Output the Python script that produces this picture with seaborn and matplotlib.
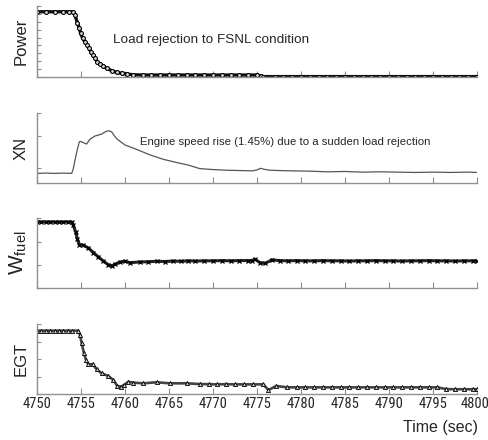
import numpy as np
import matplotlib
matplotlib.use('Agg')
import matplotlib.pyplot as plt
import matplotlib.transforms as mtransforms
from matplotlib import font_manager
import seaborn as sns

# Power (normalised, 0-9 scale) - load rejection
power_t = [4750.0, 4751.0, 4752.0, 4753.0, 4753.6, 4754.05, 4754.32, 4754.58, 4754.81, 4754.96,
           4755.19, 4755.45, 4755.72, 4755.95, 4756.10, 4756.33, 4756.59, 4756.85, 4757.16, 4757.54,
           4757.92, 4758.49, 4759.05, 4759.62, 4760.19, 4760.94, 4762.0, 4763.0, 4764.0, 4765.0,
           4766.0, 4767.0, 4768.0, 4769.0, 4770.0, 4771.0, 4772.0, 4773.0, 4774.0, 4775.0,
           4775.4, 4775.7, 4777.0, 4778.0, 4779.0, 4780.0, 4781.0, 4782.0, 4783.0, 4784.0,
           4785.0, 4786.0, 4787.0, 4788.0, 4789.0, 4790.0, 4791.0, 4792.0, 4793.0, 4794.0,
           4795.0, 4796.0, 4797.0, 4798.0, 4799.0, 4800.0]
power_v = [8.27, 8.27, 8.27, 8.27, 8.27, 8.27, 7.85, 6.88, 6.16, 5.53,
           4.90, 4.47, 4.05, 3.63, 3.20, 2.78, 2.36, 1.94, 1.65, 1.39,
           1.10, 0.80, 0.59, 0.47, 0.38, 0.28, 0.25, 0.25, 0.25, 0.25,
           0.25, 0.25, 0.25, 0.25, 0.25, 0.25, 0.25, 0.25, 0.25, 0.25,
           0.15, 0.05, 0.05, 0.05, 0.05, 0.05, 0.05, 0.05, 0.05, 0.05,
           0.05, 0.05, 0.05, 0.05, 0.05, 0.05, 0.05, 0.05, 0.05, 0.05,
           0.05, 0.05, 0.05, 0.05, 0.05, 0.05]

# XN engine speed
xn_t = [4750.0, 4751.0, 4752.0, 4753.0, 4753.94, 4754.1, 4754.32, 4754.6, 4754.81, 4755.0,
        4755.19, 4755.64, 4756.02, 4756.59, 4757.35, 4757.7, 4757.99, 4758.2, 4758.49, 4758.8,
        4759.13, 4760.0, 4761.33, 4762.84, 4764.36, 4765.88, 4767.2, 4768.5, 4770.0, 4771.5,
        4773.0, 4774.5, 4775.0, 4775.4, 4775.8, 4776.4, 4777.5, 4779.0, 4781.0, 4783.0,
        4785.0, 4787.0, 4789.0, 4791.0, 4793.0, 4795.0, 4797.0, 4799.0, 4800.0]
xn_v = [0.83, 0.84, 0.83, 0.84, 0.83, 0.95, 1.25, 1.60, 1.82, 1.83,
        1.80, 1.75, 1.90, 2.00, 2.06, 2.12, 2.16, 2.16, 2.13, 2.00,
        1.90, 1.72, 1.58, 1.41, 1.27, 1.17, 1.09, 0.98, 0.95, 0.93,
        0.92, 0.91, 0.94, 0.99, 0.96, 0.93, 0.92, 0.91, 0.90, 0.88,
        0.89, 0.87, 0.88, 0.87, 0.86, 0.87, 0.86, 0.87, 0.86]

# W_fuel fuel flow
wf_t = [4750.0, 4750.5, 4751.0, 4751.5, 4752.0, 4752.5, 4753.0, 4753.5, 4753.94, 4754.13,
        4754.39, 4754.58, 4754.81, 4755.26, 4755.83, 4756.4, 4756.97, 4757.54, 4758.1, 4758.49,
        4758.86, 4759.43, 4760.0, 4760.57, 4761.7, 4762.6, 4763.6, 4764.5, 4765.5, 4766.4,
        4767.2, 4768.0, 4769.0, 4770.0, 4771.0, 4772.0, 4773.0, 4774.0, 4774.4, 4774.77,
        4775.34, 4775.9, 4776.7, 4777.6, 4778.5, 4779.5, 4780.5, 4781.5, 4782.5, 4783.5,
        4784.5, 4785.5, 4786.5, 4787.5, 4788.5, 4789.5, 4790.5, 4791.5, 4792.5, 4793.5,
        4794.5, 4795.5, 4796.5, 4797.5, 4798.5, 4799.5, 4800.0]
wf_v = [2.87, 2.87, 2.87, 2.87, 2.87, 2.87, 2.87, 2.87, 2.87, 2.72,
        2.43, 2.14, 1.88, 1.86, 1.74, 1.54, 1.35, 1.17, 1.01, 0.96,
        1.03, 1.13, 1.16, 1.10, 1.13, 1.14, 1.16, 1.15, 1.17, 1.16,
        1.18, 1.17, 1.18, 1.18, 1.19, 1.18, 1.19, 1.19, 1.19, 1.25,
        1.10, 1.07, 1.22, 1.19, 1.18, 1.19, 1.18, 1.18, 1.19, 1.18,
        1.18, 1.17, 1.18, 1.18, 1.19, 1.18, 1.18, 1.17, 1.18, 1.18,
        1.19, 1.18, 1.18, 1.17, 1.18, 1.18, 1.18]

# EGT exhaust gas temperature
egt_t = [4750.0, 4750.5, 4751.0, 4751.5, 4752.0, 4752.5, 4753.0, 4753.5, 4754.0, 4754.7,
         4754.89, 4755.08, 4755.34, 4755.57, 4755.83, 4756.33, 4756.78, 4757.35, 4758.1, 4758.67,
         4759.13, 4759.51, 4759.89, 4760.38, 4760.94, 4762.08, 4763.6, 4765.1, 4767.0, 4768.5,
         4769.5, 4770.5, 4771.5, 4772.5, 4773.5, 4774.5, 4775.7, 4776.3, 4777.2, 4778.4,
         4779.5, 4780.5, 4781.5, 4782.5, 4783.5, 4784.5, 4785.5, 4786.5, 4787.5, 4788.5,
         4789.5, 4790.5, 4791.5, 4792.5, 4793.5, 4794.5, 4795.5, 4796.5, 4797.5, 4798.5,
         4799.5, 4800.0]
egt_v = [3.62, 3.62, 3.62, 3.62, 3.62, 3.62, 3.62, 3.62, 3.62, 3.62,
         3.37, 2.90, 2.32, 1.94, 1.70, 1.70, 1.41, 1.18, 1.03, 0.80,
         0.46, 0.42, 0.51, 0.70, 0.65, 0.61, 0.67, 0.61, 0.61, 0.57,
         0.56, 0.55, 0.56, 0.55, 0.55, 0.55, 0.55, 0.23, 0.46, 0.38,
         0.38, 0.38, 0.38, 0.38, 0.38, 0.38, 0.38, 0.38, 0.38, 0.38,
         0.38, 0.38, 0.38, 0.38, 0.38, 0.38, 0.38, 0.28, 0.27, 0.27,
         0.27, 0.27]

sns.set_style('ticks')
plt.rcParams['font.family'] = ['Liberation Sans', 'DejaVu Sans']
plt.rcParams['mathtext.fontset'] = 'custom'
plt.rcParams['mathtext.rm'] = 'Liberation Sans'

# look for a narrow/condensed face for the tick numbers
narrow = None
for f in font_manager.fontManager.ttflist:
    fn = f.fname.replace(' ', '')
    if ('Narrow' in fn or 'Condensed' in fn) and 'Bold' not in fn and 'Oblique' not in fn \
            and 'Italic' not in fn:
        narrow = f.fname
        if 'LiberationSansNarrow-Regular' in fn:
            break

fig = plt.figure(figsize=(4.88, 4.4), dpi=100)
W, H = 488, 440
left, right = 37 / W, 477 / W
panels = [(6, 77), (113, 183), (218, 288), (324, 394)]
axes = []
for top, bot in panels:
    ax = fig.add_axes([left, 1 - bot / H, right - left, (bot - top) / H])
    axes.append(ax)

grey = '#8f8f8f'
for ax in axes:
    ax.set_xlim(4750, 4800)
    ax.set_xticks(np.arange(4750, 4801, 5))
    sns.despine(ax=ax)
    for s in ['left', 'bottom']:
        ax.spines[s].set_color(grey)
        ax.spines[s].set_linewidth(1.0)

# Power
ax = axes[0]
sns.lineplot(x=power_t, y=power_v, ax=ax, color='#111111', lw=2.4, marker='o', ms=2.8,
             mfc='#dddddd', mec='black', mew=0.8, estimator=None, sort=False)
ax.set_ylim(0, 9)
ax.set_yticks(np.arange(0, 10, 1))
ax.text(4758.6, 4.68, 'Load rejection to FSNL condition', fontsize=9.7, va='center')

# XN
ax = axes[1]
sns.lineplot(x=xn_t, y=xn_v, ax=ax, color='#555555', lw=0.9, estimator=None, sort=False)
ax.set_ylim(0.53, 2.72)
ax.set_yticks([1, 2, 2.72])
ax.text(4761.7, 1.82, 'Engine speed rise (1.45%) due to a sudden load rejection',
        fontsize=8.2, va='center')

# W_fuel
ax = axes[2]
sns.lineplot(x=wf_t, y=wf_v, ax=ax, color='#222222', lw=2.2, marker='x', ms=3.5,
             mec='black', mew=0.9, estimator=None, sort=False)
ax.set_ylim(0, 3.04)
ax.set_yticks([0, 1, 2, 3.04])

# EGT
ax = axes[3]
sns.lineplot(x=egt_t, y=egt_v, ax=ax, color='#444444', lw=1.9, marker='^', ms=3,
             mfc='#cccccc', mec='black', mew=0.6, estimator=None, sort=False)
ax.set_ylim(0, 4)
ax.set_yticks([0, 1, 2, 3, 4])

for i, ax in enumerate(axes):
    ax.tick_params(axis='x', direction='in', length=4, color=grey,
                   labelbottom=(i == 3), pad=2)
    ax.tick_params(axis='y', direction='in', length=3, color=grey, labelleft=False)

ax = axes[3]
ticklabs = ax.get_xticklabels()
for lab in ticklabs:
    if narrow:
        lab.set_fontproperties(font_manager.FontProperties(fname=narrow, size=10.5))
    else:
        lab.set_fontsize(10)
# keep the last number inside the figure edge
shift = -2 if narrow else -4
ticklabs[-1].set_transform(ticklabs[-1].get_transform() +
                           mtransforms.ScaledTranslation(shift / 100, 0, fig.dpi_scale_trans))

# y labels placed explicitly left of each panel
ylabels = ['Power', 'XN', r'$\mathregular{W_{fuel}}$', 'EGT']
ysizes = [12, 12, 15, 12]
for ax, lab, fs in zip(axes, ylabels, ysizes):
    ax.set_xlabel('')
    ax.set_ylabel(lab, fontsize=fs, color='#222222', visible=True)
    ax.yaxis.label.set_visible(True)
    ax.yaxis.set_label_coords(-0.018, 0.5)

fig.text(478 / W, 1 - 427 / H, 'Time (sec)', ha='right', va='center', fontsize=11.5)

fig.savefig('out.png', dpi=100)
